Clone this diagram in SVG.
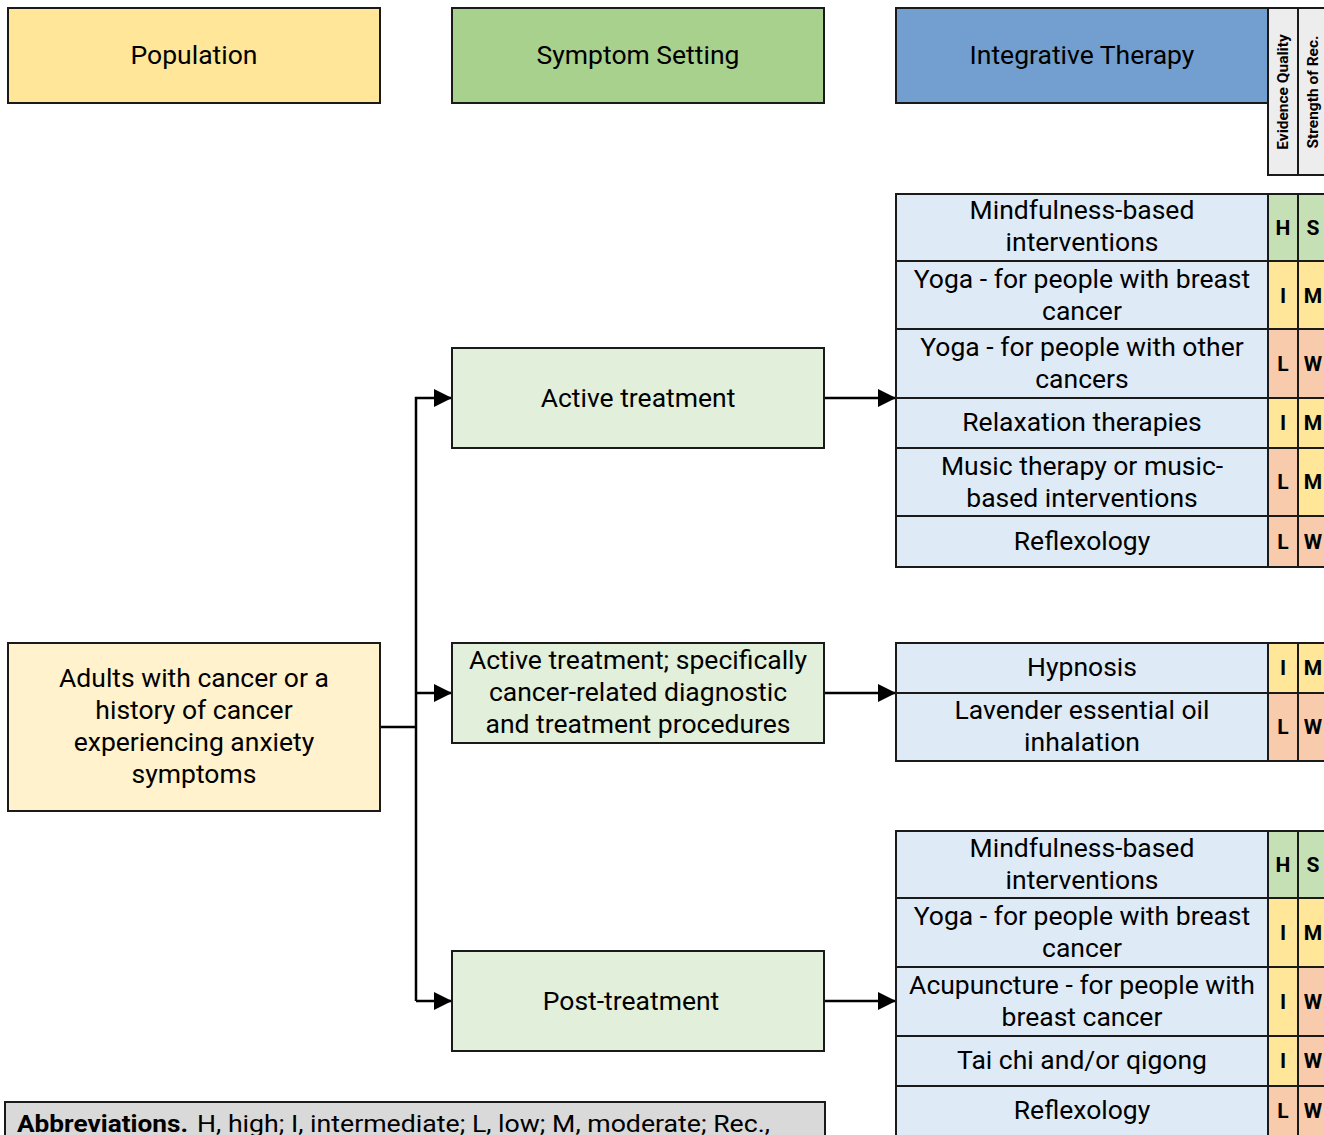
<svg xmlns="http://www.w3.org/2000/svg" width="1324" height="1135" viewBox="0 0 1324 1135">
<defs>
<style>
text{font-family:Roboto,"Liberation Sans",sans-serif;fill:#000;}
.t{font-size:26.5px;text-anchor:middle;}
.b{stroke:#1a1a1a;stroke-width:2;}
.r{font-size:21px;font-weight:bold;text-anchor:middle;}
.h{font-size:15.5px;font-weight:bold;text-anchor:middle;}
.pop{fill:#FFE699;}
.sym{fill:#A9D18E;}
.int{fill:#729FCF;}
.adult{fill:#FFF2CC;}
.set{fill:#E2EFDA;}
.ther{fill:#DEEBF7;}
.gH{fill:#C5E0B4;}
.yI{fill:#FFE699;}
.oL{fill:#F8CBAD;}
.gr{fill:#EDEDED;}
.c{fill:none;stroke:#000;stroke-width:2.5;}
</style>
<marker id="a" viewBox="0 0 12 12" refX="12" refY="6" markerWidth="18" markerHeight="18" markerUnits="userSpaceOnUse" orient="auto">
<path d="M0,0 L12,6 L0,12 z" fill="#000"/>
</marker>
</defs>

<g id="headers">
<g id="h-population"><rect class="pop b" x="8" y="8" width="372" height="95"/><text class="t" x="194" y="64">Population</text></g>
<g id="h-symptom"><rect class="sym b" x="452" y="8" width="372" height="95"/><text class="t" x="638" y="64">Symptom Setting</text></g>
<g id="h-therapy"><rect class="int b" x="896" y="8" width="372" height="95"/><text class="t" x="1082" y="64">Integrative Therapy</text></g>
<g id="h-eq"><rect class="gr b" x="1268" y="8" width="30" height="167"/><text class="h" transform="translate(1288,92) rotate(-90)">Evidence Quality</text></g>
<g id="h-sr"><rect class="gr b" x="1298" y="8" width="30" height="167"/><text class="h" transform="translate(1318,92) rotate(-90)">Strength of Rec.</text></g>
</g>

<g id="connectors">
<polyline class="c" points="380,727 416,727"/>
<polyline class="c" points="416,1001 416,398 452,398" marker-end="url(#a)"/>
<polyline class="c" points="416,693 452,693" marker-end="url(#a)"/>
<polyline class="c" points="416,1001 452,1001" marker-end="url(#a)"/>
<polyline class="c" points="824,398 896,398" marker-end="url(#a)"/>
<polyline class="c" points="824,693 896,693" marker-end="url(#a)"/>
<polyline class="c" points="824,1001 896,1001" marker-end="url(#a)"/>
</g>

<g id="population">
<rect class="adult b" x="8" y="643" width="372" height="168"/>
<text class="t" x="194" y="687">Adults with cancer or a</text>
<text class="t" x="194" y="719">history of cancer</text>
<text class="t" x="194" y="751">experiencing anxiety</text>
<text class="t" x="194" y="783">symptoms</text>
</g>

<g id="setting-active">
<rect class="set b" x="452" y="348" width="372" height="100"/>
<text class="t" x="638" y="407">Active treatment</text>
</g>
<g id="setting-procedures">
<rect class="set b" x="452" y="643" width="372" height="100"/>
<text class="t" x="638" y="669">Active treatment; specifically</text>
<text class="t" x="638" y="701">cancer-related diagnostic</text>
<text class="t" x="638" y="733">and treatment procedures</text>
</g>
<g id="setting-post">
<rect class="set b" x="452" y="951" width="372" height="100"/>
<text class="t" x="631" y="1010">Post-treatment</text>
</g>

<g id="therapies-active">
<rect class="ther b" x="896" y="194" width="372" height="67"/><text class="t" x="1082" y="219">Mindfulness-based</text><text class="t" x="1082" y="251">interventions</text>
<rect class="gH b" x="1268" y="194" width="30" height="67"/><text class="r" x="1283" y="235">H</text>
<rect class="gH b" x="1298" y="194" width="30" height="67"/><text class="r" x="1313" y="235">S</text>

<rect class="ther b" x="896" y="261" width="372" height="68"/><text class="t" x="1082" y="288">Yoga - for people with breast</text><text class="t" x="1082" y="320">cancer</text>
<rect class="yI b" x="1268" y="261" width="30" height="68"/><text class="r" x="1283" y="303">I</text>
<rect class="yI b" x="1298" y="261" width="30" height="68"/><text class="r" x="1313" y="303">M</text>

<rect class="ther b" x="896" y="329" width="372" height="69"/><text class="t" x="1082" y="356">Yoga - for people with other</text><text class="t" x="1082" y="388">cancers</text>
<rect class="oL b" x="1268" y="329" width="30" height="69"/><text class="r" x="1283" y="371">L</text>
<rect class="oL b" x="1298" y="329" width="30" height="69"/><text class="r" x="1313" y="371">W</text>

<rect class="ther b" x="896" y="398" width="372" height="50"/><text class="t" x="1082" y="431">Relaxation therapies</text>
<rect class="yI b" x="1268" y="398" width="30" height="50"/><text class="r" x="1283" y="430">I</text>
<rect class="yI b" x="1298" y="398" width="30" height="50"/><text class="r" x="1313" y="430">M</text>

<rect class="ther b" x="896" y="448" width="372" height="68"/><text class="t" x="1082" y="475">Music therapy or music-</text><text class="t" x="1082" y="507">based interventions</text>
<rect class="oL b" x="1268" y="448" width="30" height="68"/><text class="r" x="1283" y="489">L</text>
<rect class="yI b" x="1298" y="448" width="30" height="68"/><text class="r" x="1313" y="489">M</text>

<rect class="ther b" x="896" y="516" width="372" height="51"/><text class="t" x="1082" y="550">Reflexology</text>
<rect class="oL b" x="1268" y="516" width="30" height="51"/><text class="r" x="1283" y="549">L</text>
<rect class="oL b" x="1298" y="516" width="30" height="51"/><text class="r" x="1313" y="549">W</text>
</g>

<g id="therapies-procedures">
<rect class="ther b" x="896" y="643" width="372" height="50"/><text class="t" x="1082" y="676">Hypnosis</text>
<rect class="yI b" x="1268" y="643" width="30" height="50"/><text class="r" x="1283" y="675">I</text>
<rect class="yI b" x="1298" y="643" width="30" height="50"/><text class="r" x="1313" y="675">M</text>

<rect class="ther b" x="896" y="693" width="372" height="68"/><text class="t" x="1082" y="719">Lavender essential oil</text><text class="t" x="1082" y="751">inhalation</text>
<rect class="oL b" x="1268" y="693" width="30" height="68"/><text class="r" x="1283" y="734">L</text>
<rect class="oL b" x="1298" y="693" width="30" height="68"/><text class="r" x="1313" y="734">W</text>
</g>

<g id="therapies-post">
<rect class="ther b" x="896" y="831" width="372" height="67"/><text class="t" x="1082" y="857">Mindfulness-based</text><text class="t" x="1082" y="889">interventions</text>
<rect class="gH b" x="1268" y="831" width="30" height="67"/><text class="r" x="1283" y="872">H</text>
<rect class="gH b" x="1298" y="831" width="30" height="67"/><text class="r" x="1313" y="872">S</text>

<rect class="ther b" x="896" y="898" width="372" height="69"/><text class="t" x="1082" y="925">Yoga - for people with breast</text><text class="t" x="1082" y="957">cancer</text>
<rect class="yI b" x="1268" y="898" width="30" height="69"/><text class="r" x="1283" y="940">I</text>
<rect class="yI b" x="1298" y="898" width="30" height="69"/><text class="r" x="1313" y="940">M</text>

<rect class="ther b" x="896" y="967" width="372" height="69"/><text class="t" x="1082" y="994">Acupuncture - for people with</text><text class="t" x="1082" y="1026">breast cancer</text>
<rect class="yI b" x="1268" y="967" width="30" height="69"/><text class="r" x="1283" y="1009">I</text>
<rect class="oL b" x="1298" y="967" width="30" height="69"/><text class="r" x="1313" y="1009">W</text>

<rect class="ther b" x="896" y="1036" width="372" height="50"/><text class="t" x="1082" y="1069">Tai chi and/or qigong</text>
<rect class="yI b" x="1268" y="1036" width="30" height="50"/><text class="r" x="1283" y="1068">I</text>
<rect class="oL b" x="1298" y="1036" width="30" height="50"/><text class="r" x="1313" y="1068">W</text>

<rect class="ther b" x="896" y="1086" width="372" height="60"/><text class="t" x="1082" y="1119">Reflexology</text>
<rect class="oL b" x="1268" y="1086" width="30" height="60"/><text class="r" x="1283" y="1118">L</text>
<rect class="oL b" x="1298" y="1086" width="30" height="60"/><text class="r" x="1313" y="1118">W</text>
</g>

<g id="abbreviations">
<rect x="5" y="1102" width="820" height="50" fill="#D9D9D9" stroke="#1a1a1a" stroke-width="2"/>
<text x="17" y="1132" font-size="24" font-weight="bold" textLength="171" lengthAdjust="spacingAndGlyphs">Abbreviations.</text>
<text x="197" y="1132" font-size="24" textLength="573" lengthAdjust="spacingAndGlyphs">H, high; I, intermediate; L, low; M, moderate; Rec.,</text>
</g>
</svg>
